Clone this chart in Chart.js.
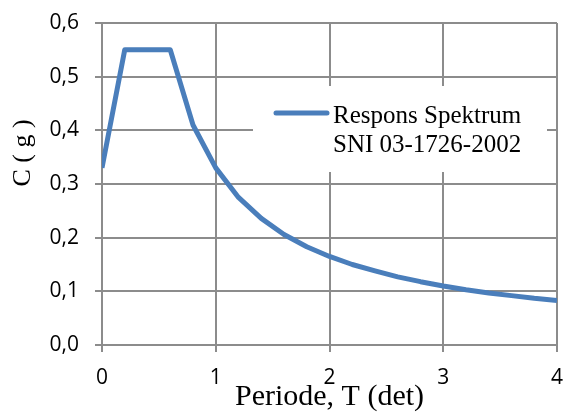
<!DOCTYPE html>
<html>
<head>
<meta charset="utf-8">
<script src="https://cdn.jsdelivr.net/npm/chart.js@4/dist/chart.umd.min.js"></script>
<style>
  html, body { margin: 0; padding: 0; background: #ffffff; }
  #wrap { width: 565px; height: 418px; }
</style>
</head>
<body>
<div id="wrap"><canvas id="spectrum"></canvas></div>
<script>
// Periode T (det) dan koefisien gempa C (g)
const periods = [0, 0.2, 0.6, 0.8, 1.0, 1.2, 1.4, 1.6, 1.8, 2.0, 2.2, 2.4, 2.6, 2.8, 3.0, 3.2, 3.4, 3.6, 3.8, 4.0];
const cValues = [0.33, 0.55, 0.55, 0.41, 0.33, 0.275, 0.236, 0.206, 0.183, 0.165, 0.15, 0.138, 0.127, 0.118, 0.11, 0.103, 0.097, 0.092, 0.087, 0.083];
const seriesLabel = ['Respons Spektrum', 'SNI 03-1726-2002'];
const xTitle = 'Periode, T (det)';
const yTitle = 'C ( g )';

const lineColor = '#4a7ebb';
const gridColor = '#8c8c8c';
const tickFont = { family: '"Open Sans", sans-serif', size: 21 };

// legenda di dalam area plot + judul sumbu Y
const extras = {
  id: 'extras',
  afterDraw(chart) {
    const ctx = chart.ctx;
    ctx.save();
    // kotak legenda
    ctx.fillStyle = '#ffffff';
    ctx.fillRect(253, 86, 294, 86);
    ctx.strokeStyle = lineColor;
    ctx.lineWidth = 5;
    ctx.lineCap = 'round';
    ctx.beginPath();
    ctx.moveTo(276, 113);
    ctx.lineTo(327, 113);
    ctx.stroke();
    ctx.fillStyle = '#000000';
    ctx.font = '25px "Liberation Serif", serif';
    ctx.textBaseline = 'alphabetic';
    ctx.textAlign = 'left';
    const label = chart.data.datasets[0].label;
    ctx.fillText(label[0], 333, 123);
    ctx.fillText(label[1], 333, 152);

    // judul sumbu Y
    ctx.font = '26px "Liberation Serif", serif';
    ctx.translate(23, 153);
    ctx.rotate(-Math.PI / 2);
    ctx.textAlign = 'center';
    ctx.textBaseline = 'middle';
    ctx.fillText(yTitle, 0, 0);
    ctx.restore();
  }
};

new Chart(document.getElementById('spectrum'), {
  type: 'line',
  data: {
    datasets: [{
      label: seriesLabel,
      data: periods.map((t, i) => ({ x: t, y: cValues[i] })),
      borderColor: lineColor,
      backgroundColor: lineColor,
      borderWidth: 5,
      borderJoinStyle: 'round',
      pointRadius: 0,
      tension: 0,
      fill: false
    }]
  },
  options: {
    responsive: true,
    maintainAspectRatio: false,
    animation: false,
    layout: { padding: { top: 23, right: 8, left: 0, bottom: 0 } },
    plugins: {
      legend: { display: false },
      tooltip: { enabled: false }
    },
    scales: {
      x: {
        type: 'linear',
        min: 0,
        max: 4,
        ticks: {
          stepSize: 1,
          color: '#000000',
          padding: 13,
          font: tickFont
        },
        grid: { color: gridColor, lineWidth: 2, tickLength: 7 },
        border: { color: gridColor, width: 2 },
        title: {
          display: true,
          text: xTitle,
          color: '#000000',
          font: { family: '"Liberation Serif", serif', size: 30 },
          padding: { top: 0, bottom: 3 }
        },
        afterFit(scale) {
          scale.height = 73;
          scale.paddingLeft = 0;
          scale.paddingRight = 0;
        }
      },
      y: {
        min: 0,
        max: 0.6,
        ticks: {
          stepSize: 0.1,
          color: '#000000',
          padding: 16,
          font: tickFont,
          callback: v => v.toFixed(1).replace('.', ',')
        },
        grid: { color: gridColor, lineWidth: 2, tickLength: 7 },
        border: { color: gridColor, width: 2 },
        afterFit(scale) {
          scale.width = 102;
          scale.paddingTop = 0;
          scale.paddingBottom = 0;
        }
      }
    }
  },
  plugins: [extras]
});
</script>
</body>
</html>
